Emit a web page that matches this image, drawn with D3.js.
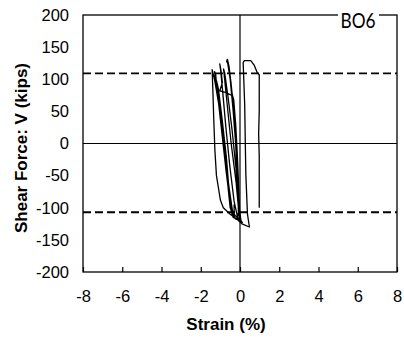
<!DOCTYPE html>
<html>
<head>
<meta charset="utf-8">
<script src="https://cdn.jsdelivr.net/npm/d3@7/dist/d3.min.js"></script>
<style>
  html, body { margin: 0; padding: 0; background: #fff; }
  svg { display: block; }
</style>
</head>
<body>
<svg id="chart" width="404" height="338"></svg>
<script>
// ---- data ----
const xTicks = [-8, -6, -4, -2, 0, 2, 4, 6, 8];
const yTicks = [-200, -150, -100, -50, 0, 50, 100, 150, 200];
const capacityLines = [109, -107];
const specimenLabel = "BO6";
const xTitle = "Strain (%)";
const yTitle = "Shear Force: V (kips)";

const strain = [
  -0.30, -0.30, -0.18, -0.08, -0.12, -0.22, -0.36, -0.50, -0.62, -0.68, -0.64, -0.56, -0.46, -0.40, -0.32, -0.22, -0.14, -0.07, -0.02, 0.05, 0.12,
  -0.10, -0.30, -0.52, -0.72, -0.88, -0.98, -1.03, -0.96, -0.90, -1.03, -0.70, -0.42, -0.33, -0.25, -0.18, -0.12, -0.06, 0.02,
  -0.05, -0.20, -0.45, -0.65, -0.80, -0.84, -0.78, -0.60, -0.40, -0.20, -0.08, -0.02,
  -0.25, -0.48, -0.70, -0.90, -1.10, -1.25, -1.30, -1.24, -1.18, -1.00, -0.80, -0.62, -0.50, -0.30,
  -0.48, -0.72, -0.95, -1.15, -1.25, -1.12, -0.92, -0.72, -0.55, -0.42, -0.20,
  -0.35, -0.55, -0.80, -1.00, -1.18, -1.20, -1.10, -0.90, -0.70, -0.55, -0.45, -0.35,
  -0.40, -0.62, -0.85, -1.05, -1.30, -1.42, -1.38, -1.34, -1.28, -1.20, -1.12, -1.00, -0.85, -0.50, -0.15, 0.10, 0.48,
  0.38, 0.30, 0.27, 0.24, 0.18, 0.16, 0.22, 0.55, 0.72, 0.88, 0.98, 0.98, 0.95, 0.98, 0.98
];
const shear = [
  -95, -114, -118, -108, -60, 0, 55, 100, 124, 128, 131, 120, 95, 77, 68, 30, -15, -65, -105, -120, -123,
  -118, -90, -35, 25, 80, 112, 124, 112, 95, 82, 79, 75, 62, 20, -30, -80, -112, -121,
  -110, -60, 0, 60, 105, 116, 110, 70, 20, -40, -90, -118,
  -112, -99, -45, 10, 65, 100, 112, 108, 85, 40, -15, -65, -100, -116,
  -98, -40, 25, 80, 94, 80, 30, -25, -80, -108, -118,
  -112, -70, -10, 45, 92, 98, 85, 35, -20, -75, -105, -115,
  -104, -60, 0, 55, 100, 115, 80, 40, -10, -50, -65, -88, -100, -110, -118, -125, -130,
  -110, -50, 0, 60, 110, 126, 129, 129, 122, 110, 107, 50, 15, -20, -100
];

// ---- layout ----
const svg = d3.select("#chart");
const mLeft = 83, mRight = 397, mTop = 15, mBottom = 272;
const x = d3.scaleLinear().domain([-8, 8]).range([mLeft, mRight]);
const y = d3.scaleLinear().domain([-200, 200]).range([mBottom, mTop]);
const tickFont = "'Liberation Sans', Arial, sans-serif";
const fmt = d => String(d);

// frame
svg.append("rect")
  .attr("x", mLeft).attr("y", mTop)
  .attr("width", mRight - mLeft).attr("height", mBottom - mTop)
  .attr("fill", "none").attr("stroke", "#000").attr("stroke-width", 1.3);

// zero lines
svg.append("line")
  .attr("x1", x(0)).attr("x2", x(0)).attr("y1", mTop).attr("y2", mBottom)
  .attr("stroke", "#000").attr("stroke-width", 1.2);
svg.append("line")
  .attr("x1", mLeft).attr("x2", mRight).attr("y1", y(0)).attr("y2", y(0))
  .attr("stroke", "#000").attr("stroke-width", 1.2);

// x axis
const xAxis = svg.append("g")
  .attr("transform", `translate(0,${mBottom})`)
  .call(d3.axisBottom(x).tickValues(xTicks).tickSize(-5).tickPadding(18).tickFormat(fmt));
xAxis.select(".domain").remove();
xAxis.selectAll(".tick line").attr("stroke", "#000").attr("stroke-width", 1.2);
xAxis.selectAll("text").attr("font-family", tickFont).attr("font-size", 16.5).attr("fill", "#000");

// y axis
const yAxis = svg.append("g")
  .attr("transform", `translate(${mLeft},0)`)
  .call(d3.axisLeft(y).tickValues(yTicks).tickSize(0).tickPadding(14).tickFormat(fmt));
yAxis.select(".domain").remove();
yAxis.selectAll("text").attr("font-family", tickFont).attr("font-size", 16.5).attr("fill", "#000");

// capacity dashed lines
svg.selectAll(".cap").data(capacityLines).join("line")
  .attr("class", "cap")
  .attr("x1", mLeft).attr("x2", mRight)
  .attr("y1", d => y(d)).attr("y2", d => y(d))
  .attr("stroke", "#000").attr("stroke-width", 1.8)
  .attr("stroke-dasharray", "8,4");

// hysteresis curve
const pts = strain.map((s, i) => [s, shear[i]]);
svg.append("path")
  .datum(pts)
  .attr("fill", "none")
  .attr("stroke", "#000")
  .attr("stroke-width", 1.3)
  .attr("stroke-linejoin", "round")
  .attr("d", d3.line().x(d => x(d[0])).y(d => y(d[1])));

// specimen label
svg.append("rect")
  .attr("x", 338).attr("y", 4).attr("width", 41).attr("height", 26)
  .attr("fill", "#fff");
svg.append("text")
  .attr("x", 358).attr("y", 28)
  .attr("text-anchor", "middle")
  .attr("font-family", "Lato, 'Open Sans', sans-serif")
  .attr("font-size", 22)
  .attr("textLength", 35).attr("lengthAdjust", "spacingAndGlyphs")
  .attr("fill", "#000")
  .text(specimenLabel);

// axis titles
svg.append("text")
  .attr("x", 226).attr("y", 330)
  .attr("text-anchor", "middle")
  .attr("font-family", tickFont).attr("font-weight", "bold").attr("font-size", 17)
  .attr("fill", "#000")
  .text(xTitle);
svg.append("text")
  .attr("transform", "translate(27,148) rotate(-90)")
  .attr("text-anchor", "middle")
  .attr("font-family", tickFont).attr("font-weight", "bold").attr("font-size", 17)
  .attr("fill", "#000")
  .text(yTitle);
</script>
</body>
</html>
